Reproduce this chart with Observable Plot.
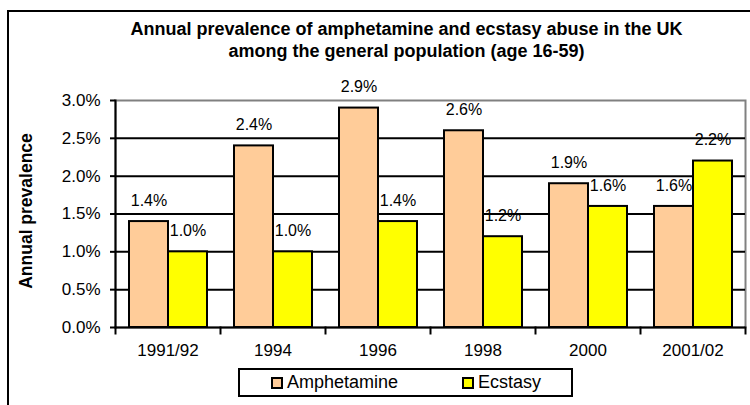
<!DOCTYPE html>
<html>
<head>
<meta charset="utf-8">
<script src="https://cdn.jsdelivr.net/npm/d3@7"></script>
<script src="https://cdn.jsdelivr.net/npm/@observablehq/plot@0.6"></script>
<style>
  html, body { margin: 0; padding: 0; background: #fff; }
  #wrap { position: relative; width: 750px; height: 405px; overflow: hidden; font-family: "Liberation Sans", Arial, sans-serif; color: #000; }
  #frame { position: absolute; left: 7px; top: 10px; width: 820px; height: 440px; border: 2px solid #000; box-sizing: border-box; }
  #title { position: absolute; left: 0; top: 17.5px; width: 813px; text-align: center; font-weight: bold; font-size: 18px; line-height: 22px; white-space: nowrap; }
  #ylabel { position: absolute; left: 26px; top: 211px; transform: translate(-50%, -50%) rotate(-90deg); font-weight: bold; font-size: 17.5px; white-space: nowrap; }
  #chart { position: absolute; left: 0; top: 0; }
  #legend { position: absolute; left: 238px; top: 368px; width: 335px; height: 29px; border: 2px solid #000; box-sizing: border-box; background: #fff; font-size: 18px; }
  .item { position: absolute; top: 0; height: 25px; display: flex; align-items: center; white-space: nowrap; }
  .sw { width: 12px; height: 12px; border: 2px solid #000; box-sizing: border-box; margin-right: 4px; }
</style>
</head>
<body>
<div id="wrap">
  <div id="frame"></div>
  <div id="chart"></div>
  <div id="title"></div>
  <div id="ylabel"></div>
  <div id="legend"></div>
</div>
<script>
const titleLines = ["Annual prevalence of amphetamine and ecstasy abuse in the UK", "among the general population (age 16-59)"];
const yLabel = "Annual prevalence";
const categories = ["1991/92", "1994", "1996", "1998", "2000", "2001/02"];
const series = ["Amphetamine", "Ecstasy"];
const amphetamine = [1.4, 2.4, 2.9, 2.6, 1.9, 1.6];
const ecstasy = [1.0, 1.0, 1.4, 1.2, 1.6, 2.2];
const colors = ["#FFCC99", "#FFFF00"];
const yTicks = [0, 0.5, 1.0, 1.5, 2.0, 2.5, 3.0];

const rows = [];
categories.forEach((c, i) => {
  rows.push({cat: c, series: series[0], value: amphetamine[i]});
  rows.push({cat: c, series: series[1], value: ecstasy[i]});
});
const fmt = v => v.toFixed(1) + "%";

const plot = Plot.plot({
  width: 750,
  height: 405,
  marginTop: 100,
  marginBottom: 78,
  marginLeft: 114,
  marginRight: 5,
  style: {fontFamily: "'Liberation Sans', Arial, sans-serif", color: "#000", background: "transparent"},
  fx: {domain: categories, padding: 0, label: null},
  x: {domain: series, paddingInner: 0, paddingOuter: 0.315, axis: null},
  y: {domain: [0, 3], axis: null},
  color: {domain: series, range: colors},
  marks: [
    Plot.frame({facet: "super", stroke: "#808080", strokeWidth: 2}),
    Plot.gridY(yTicks.slice(1, -1), {stroke: "#000", strokeOpacity: 1, strokeWidth: 2}),
    Plot.barY(rows, {fx: "cat", x: "series", y: "value", fill: "series", stroke: "#000", strokeWidth: 2}),
    Plot.ruleY([0], {stroke: "#000", strokeWidth: 2}),
    Plot.frame({facet: "super", anchor: "left", stroke: "#000", strokeWidth: 2}),
    Plot.frame({anchor: "left", stroke: "#000", strokeWidth: 2, insetTop: 227, insetBottom: -6}),
    Plot.frame({facet: "super", anchor: "right", stroke: "#000", strokeWidth: 2, insetTop: 227, insetBottom: -6}),
    Plot.axisY({ticks: yTicks, tickFormat: fmt, tickSize: 5, tickPadding: 10, fontSize: 17, label: null, strokeWidth: 2}),
    Plot.axisFx({anchor: "bottom", tickSize: 0, tickPadding: 16, fontSize: 17, label: null}),
    Plot.text(rows, {fx: "cat", x: "series", y: "value", text: d => fmt(d.value), dy: -21, fontSize: 16, fill: "#000"})
  ]
});
document.getElementById("chart").appendChild(plot);

document.getElementById("title").innerHTML = titleLines.join("<br>");
document.getElementById("ylabel").textContent = yLabel;

const legend = document.getElementById("legend");
const itemLeft = [31, 222];
series.forEach((s, i) => {
  const it = document.createElement("div");
  it.className = "item";
  it.style.left = itemLeft[i] + "px";
  const sw = document.createElement("div");
  sw.className = "sw";
  sw.style.background = colors[i];
  const t = document.createElement("span");
  t.textContent = s;
  it.appendChild(sw);
  it.appendChild(t);
  legend.appendChild(it);
});
</script>
</body>
</html>
